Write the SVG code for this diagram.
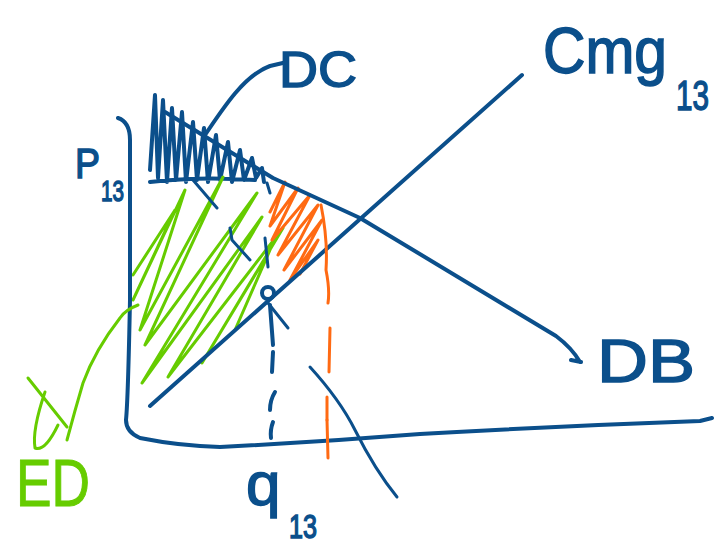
<svg xmlns="http://www.w3.org/2000/svg" width="723" height="560" viewBox="0 0 723 560">
<style>
.b{fill:none;stroke:#0b4f8b;stroke-width:4;stroke-linecap:round;stroke-linejoin:round}
.bt{fill:none;stroke:#0b4f8b;stroke-width:3;stroke-linecap:round;stroke-linejoin:round}
.g{fill:none;stroke:#66cc00;stroke-width:3;stroke-linecap:round;stroke-linejoin:round}
.o{fill:none;stroke:#ff6a13;stroke-width:3;stroke-linecap:round;stroke-linejoin:round}
.tb{fill:#0b4f8b;stroke:#0b4f8b;stroke-width:1.5;font-family:"Liberation Sans",Arial,sans-serif}
.tg{fill:#66cc00;stroke:#66cc00;stroke-width:1;font-family:"Liberation Sans",Arial,sans-serif}
</style>
<rect width="723" height="560" fill="#fff"/>
<g id="hatching">
<path id="cs" class="b" d="M150,170 L155,95 L158,178 L163,100 L167,182 L172,108 L176,180 L182,112 L186,182 L193,122 L197,180 L204,128 L208,182 L216,135 L220,180 L228,142 L232,182 L240,150 L244,180 L252,158 L256,178 L262,168 L264,182 M150,182 Q200,176 255,180"/>
<path id="ps" class="g" d="M133,275 L175,210 L133,300 L185,190 L140,330 L223,177 L145,345 L257,193 L142,383 L262,217 L168,377 L283,228 L202,363 L270,250 L235,330"/>
<path id="dwl" class="o" d="M270,212 L285,182 L270,226 L298,188 L272,240 L310,195 L278,255 L318,205 L284,270 L322,220 L290,280 L318,240 L300,274"/>
</g>
<g id="axes">
<path class="b" d="M118,118 Q130,122 130,140 L130,300 Q128,400 126,420 Q126,432 140,438 Q180,446 220,447 Q320,442 420,434 Q560,426 700,421 L712,418"/>
</g>
<g id="demand">
<path class="b" d="M165,112 L273,178 L360,218 L556,336 Q572,348 580,362 M571,360 L581,362"/>
</g>
<g id="supply">
<path class="b" d="M150,406 L522,75"/>
</g>
<g id="equilibrium">
<circle cx="268" cy="293" r="6" class="b"/>
<path class="bt" d="M268,303 L288,328"/>
</g>
<g id="connectors">
<path class="bt" d="M193,180 L217,208 M230,228 L232,240 L250,260 M265,238 L268,267 M267,183 L270,193"/>
<path class="b" d="M270,305 L273,345 M273,352 L272,372 M275,392 Q270,400 270,410 M273,422 Q270,430 271,438"/>
<path class="o" d="M321,205 Q328,240 326,270 Q330,290 328,303 M330,328 L329,372 M327,397 L327,420"/>
<path class="o" stroke-width="5" d="M327,420 L328,458"/>
<path class="bt" d="M310,367 Q340,400 355,430 Q375,470 397,497"/>
<path class="b" d="M203,138 C225,105 245,75 270,66 L287,62"/>
<path class="g" d="M138,305 Q125,310 120,318 Q95,350 83,383 Q75,410 67,440 M28,378 L67,427 M45,392 Q32,430 35,448 Q45,452 58,425"/>
</g>
<g id="label-dc"><text class="tb" x="279" y="87" font-size="50" textLength="78" lengthAdjust="spacingAndGlyphs">DC</text></g>
<g id="label-cmg"><text class="tb" x="543" y="73" font-size="64" textLength="124" lengthAdjust="spacingAndGlyphs">Cmg</text><text class="tb" x="676" y="110" font-size="42" textLength="33" lengthAdjust="spacingAndGlyphs">13</text></g>
<g id="label-p"><text class="tb" x="75" y="178" font-size="42" textLength="25" lengthAdjust="spacingAndGlyphs">P</text><text class="tb" x="101" y="201" font-size="30" textLength="23" lengthAdjust="spacingAndGlyphs">13</text></g>
<g id="label-q"><text class="tb" x="246" y="505" font-size="62">q</text><text class="tb" x="289" y="538" font-size="34" textLength="28" lengthAdjust="spacingAndGlyphs">13</text></g>
<g id="label-db"><text class="tb" x="597" y="382" font-size="62" textLength="98" lengthAdjust="spacingAndGlyphs">DB</text></g>
<g id="label-ed"><text class="tg" x="16" y="506" font-size="66" textLength="74" lengthAdjust="spacingAndGlyphs">ED</text></g>
</svg>
